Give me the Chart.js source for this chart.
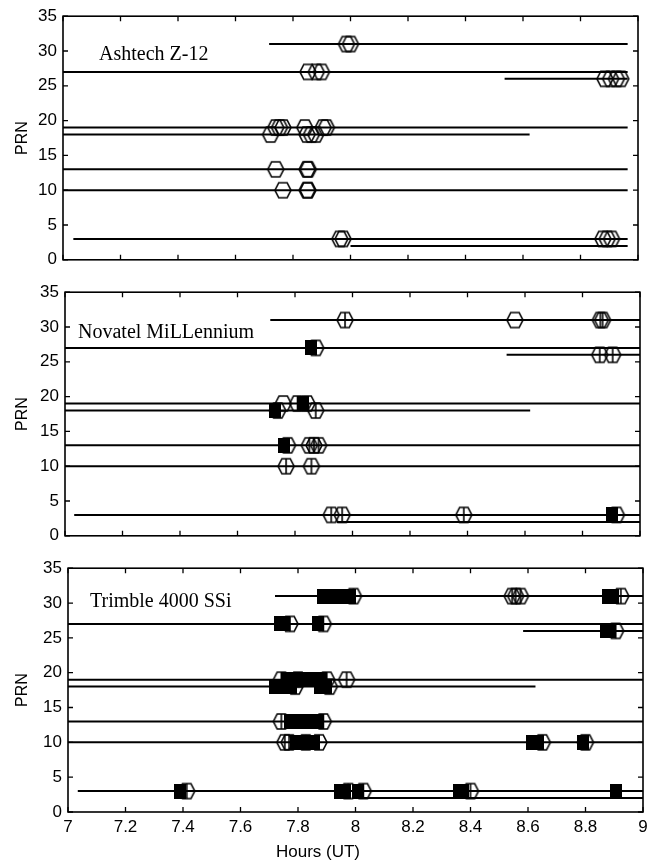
<!DOCTYPE html>
<html>
<head>
<meta charset="utf-8">
<script src="https://cdn.jsdelivr.net/npm/chart.js@4.4.1/dist/chart.umd.min.js"></script>
<style>
  body { margin: 0; background: #fff; width: 656px; height: 861px; position: relative; overflow: hidden; }
  canvas { position: absolute; left: 0; }
  #xlabel { position: absolute; top: 842px; left: 238px; width: 160px; text-align: center;
            font: 17px "Liberation Sans", Arial, sans-serif; color: #000; }
</style>
</head>
<body>
<canvas id="c1" width="656" height="276" style="top:0px"></canvas>
<canvas id="c2" width="656" height="276" style="top:276px"></canvas>
<canvas id="c3" width="656" height="309" style="top:552px"></canvas>
<div id="xlabel">Hours (UT)</div>
<script>
// axis ticks
const xTicks = [7, 7.2, 7.4, 7.6, 7.8, 8, 8.2, 8.4, 8.6, 8.8, 9];
const yTicks = [0, 5, 10, 15, 20, 25, 30, 35];

// satellite tracking spans (hours UT), one entry per PRN
const spanPrn = [31, 27, 26, 19, 18, 13, 10, 3, 2];
const ashtechStart = [7.717, 7.0, 8.536, 7.0, 7.0, 7.0, 7.0, 7.036, 8.0];
const ashtechEnd   = [8.964, 8.964, 8.964, 8.964, 8.623, 8.964, 8.964, 8.964, 8.964];
const novatelStart = [7.714, 7.0, 8.536, 7.0, 7.0, 7.0, 7.0, 7.032, 7.945];
const novatelEnd   = [9, 9, 9, 9, 8.618, 9, 9, 9, 9];
const trimbleStart = [7.72, 7.0, 8.583, 7.0, 7.0, 7.0, 7.0, 7.034, 8.0];
const trimbleEnd   = [9, 9, 9, 9, 8.626, 9, 9, 9, 9];

// events as [hour, PRN]
const ashtechOpen = [
  [7.986, 31], [8.0, 31],
  [7.852, 27], [7.881, 27], [7.899, 27],
  [8.885, 26], [8.905, 26], [8.925, 26], [8.94, 26],
  [7.74, 19], [7.753, 19], [7.765, 19], [7.841, 19], [7.905, 19], [7.916, 19],
  [7.722, 18], [7.849, 18], [7.864, 18], [7.879, 18],
  [7.74, 13], [7.849, 13], [7.853, 13],
  [7.765, 10], [7.849, 10], [7.852, 10],
  [7.963, 3], [7.974, 3], [8.878, 3], [8.893, 3], [8.908, 3]
];
const novatelOpen = [[8.565, 31], [7.759, 19]];
const novatelBar = [
  [7.974, 31], [8.862, 31], [8.870, 31],
  [7.872, 27],
  [8.860, 26], [8.905, 26],
  [7.809, 19], [7.842, 19],
  [7.740, 18], [7.872, 18],
  [7.774, 13], [7.850, 13], [7.866, 13], [7.882, 13],
  [7.769, 10], [7.857, 10],
  [7.926, 3], [7.964, 3], [8.387, 3], [8.918, 3]
];
const novatelFilled = [[7.857, 27], [7.828, 19], [7.730, 18], [7.762, 13], [8.904, 3]];
const trimbleBar = [
  [7.993, 31], [8.545, 31], [8.557, 31], [8.574, 31], [8.923, 31],
  [7.772, 27], [7.888, 27],
  [8.905, 26],
  [7.742, 19], [7.80, 19], [7.90, 19], [7.969, 19],
  [7.79, 18], [7.909, 18],
  [7.742, 13], [7.888, 13],
  [7.754, 10], [7.769, 10], [7.827, 10], [7.873, 10], [8.65, 10], [8.80, 10],
  [7.413, 3], [7.975, 3], [8.027, 3], [8.40, 3]
];
const trimbleFilled = [
  [7.886, 31], [7.905, 31], [7.925, 31], [7.945, 31], [7.965, 31], [7.98, 31], [8.877, 31], [8.895, 31],
  [7.737, 27], [7.75, 27], [7.87, 27],
  [8.871, 26], [8.885, 26],
  [7.76, 19], [7.78, 19], [7.80, 19], [7.82, 19], [7.84, 19], [7.86, 19], [7.88, 19],
  [7.72, 18], [7.74, 18], [7.76, 18], [7.777, 18], [7.877, 18], [7.899, 18],
  [7.772, 13], [7.79, 13], [7.81, 13], [7.83, 13], [7.85, 13], [7.87, 13],
  [7.792, 10], [7.815, 10], [7.856, 10], [8.615, 10], [8.635, 10], [8.79, 10],
  [7.39, 3], [7.947, 3], [7.962, 3], [8.008, 3], [8.36, 3], [8.375, 3], [8.906, 3]
];

const receivers = ['Ashtech Z-12', 'Novatel MiLLennium', 'Trimble 4000 SSi'];

// marker glyphs
function hexGlyph(bar) {
  const w = 16, h = 15;
  const c = document.createElement('canvas');
  c.width = w + 4; c.height = h + 4;
  const g = c.getContext('2d');
  g.translate(c.width / 2, c.height / 2);
  g.strokeStyle = '#000';
  g.lineWidth = 1.6;
  g.beginPath();
  g.moveTo(-w / 2, 0);
  g.lineTo(-w * 0.26, -h / 2);
  g.lineTo(w * 0.26, -h / 2);
  g.lineTo(w / 2, 0);
  g.lineTo(w * 0.26, h / 2);
  g.lineTo(-w * 0.26, h / 2);
  g.closePath();
  g.stroke();
  if (bar) {
    g.beginPath();
    g.moveTo(0, -h / 2);
    g.lineTo(0, h / 2);
    g.stroke();
  }
  return c;
}
function squareGlyph() {
  const c = document.createElement('canvas');
  c.width = 12; c.height = 15;
  const g = c.getContext('2d');
  g.fillStyle = '#000';
  g.fillRect(0, 0, 12, 15);
  return c;
}
const openHex = hexGlyph(false);
const barHex = hexGlyph(true);
const filledSq = squareGlyph();

const toPoints = arr => arr.map(([x, y]) => ({ x, y }));

function spanSets(start, end) {
  return spanPrn.map((p, i) => ({
    data: [{ x: start[i], y: p }, { x: end[i], y: p }],
    showLine: true,
    borderColor: '#000',
    borderWidth: 2,
    pointRadius: 0,
    order: 2
  }));
}
function markSet(arr, glyph, order) {
  return { data: toPoints(arr), pointStyle: glyph, pointRadius: 5, order: order, clip: false };
}

// box with inward ticks + receiver label
const frame = {
  id: 'frame',
  afterDatasetsDraw(chart, args, opts) {
    const { ctx, chartArea: a, scales: { x, y } } = chart;
    ctx.save();
    ctx.strokeStyle = '#000';
    ctx.lineWidth = 1.6;
    ctx.strokeRect(a.left, a.top, a.right - a.left, a.bottom - a.top);
    ctx.lineWidth = 1.3;
    ctx.beginPath();
    x.ticks.forEach(t => {
      const p = x.getPixelForValue(t.value);
      ctx.moveTo(p, a.bottom); ctx.lineTo(p, a.bottom - 5);
      ctx.moveTo(p, a.top); ctx.lineTo(p, a.top + 5);
    });
    y.ticks.forEach(t => {
      const p = y.getPixelForValue(t.value);
      ctx.moveTo(a.left, p); ctx.lineTo(a.left + 5, p);
      ctx.moveTo(a.right, p); ctx.lineTo(a.right - 5, p);
    });
    ctx.stroke();
    ctx.fillStyle = '#000';
    ctx.font = '20px "Liberation Serif", "Times New Roman", serif';
    ctx.textBaseline = 'alphabetic';
    ctx.fillText(opts.label, a.left + opts.dx, a.top + opts.dy);
    ctx.restore();
  }
};

function makePanel(id, datasets, cfg) {
  const tickFont = { family: 'Liberation Sans', size: 17 };
  new Chart(document.getElementById(id), {
    type: 'scatter',
    data: { datasets: datasets },
    options: {
      responsive: false,
      animation: false,
      devicePixelRatio: 1,
      layout: { padding: { left: 0, right: cfg.right, top: cfg.top, bottom: cfg.bottom } },
      plugins: {
        legend: { display: false },
        tooltip: { enabled: false },
        frame: { label: cfg.label, dx: cfg.dx, dy: cfg.dy }
      },
      scales: {
        x: {
          type: 'linear',
          min: 7,
          max: 9,
          afterBuildTicks: s => { s.ticks = xTicks.map(v => ({ value: v })); },
          afterFit: s => { s.height = cfg.xHeight; },
          grid: { display: false, drawTicks: false },
          border: { display: false },
          ticks: {
            display: cfg.xLabels,
            autoSkip: false,
            maxRotation: 0,
            padding: 5,
            color: '#000',
            font: tickFont,
            callback: v => String(Math.round(v * 10) / 10)
          }
        },
        y: {
          min: 0,
          max: 35,
          afterBuildTicks: s => { s.ticks = yTicks.map(v => ({ value: v })); },
          afterFit: s => { s.width = cfg.left; },
          grid: { display: false, drawTicks: false },
          border: { display: false },
          ticks: { padding: 6, color: '#000', font: tickFont },
          title: {
            display: true,
            text: 'PRN',
            color: '#000',
            font: { family: 'Liberation Sans', size: 16 },
            padding: { top: 13, bottom: 0 }
          }
        }
      }
    },
    plugins: [frame]
  });
}

makePanel('c1', [
  markSet(ashtechOpen, openHex, 1),
  ...spanSets(ashtechStart, ashtechEnd)
], { left: 63, right: 18, top: 14, bottom: 12, xHeight: 0, xLabels: false, label: receivers[0], dx: 36, dy: 44 });

makePanel('c2', [
  markSet(novatelFilled, filledSq, 0),
  markSet(novatelOpen, openHex, 1),
  markSet(novatelBar, barHex, 1),
  ...spanSets(novatelStart, novatelEnd)
], { left: 65, right: 16, top: 13, bottom: 13, xHeight: 0, xLabels: false, label: receivers[1], dx: 13, dy: 46 });

makePanel('c3', [
  markSet(trimbleFilled, filledSq, 0),
  markSet(trimbleBar, barHex, 1),
  ...spanSets(trimbleStart, trimbleEnd)
], { left: 68, right: 13, top: 10, bottom: 19, xHeight: 30, xLabels: true, label: receivers[2], dx: 22, dy: 38.5 });
</script>
</body>
</html>
